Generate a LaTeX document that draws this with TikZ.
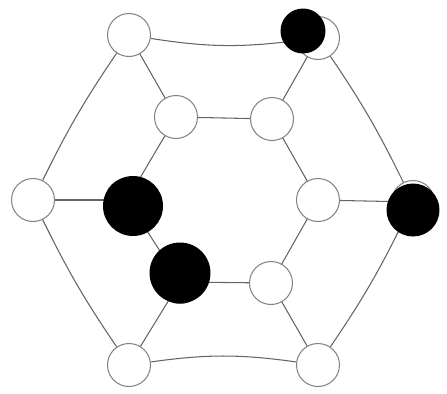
\documentclass[tikz,border=0pt]{standalone}
\usetikzlibrary{positioning}
\definecolor{edgegray}{RGB}{100,100,100}

\begin{document}
\begin{tikzpicture}[x=0.02cm, y=-0.02cm,
    site/.style={draw=edgegray!80,circle,line width=0.6pt,minimum size=0.86cm,inner sep=0pt,fill=white},
    blot/.style={circle,fill=black,inner sep=0pt},
    bond/.style={draw=edgegray,line width=0.6pt}]
        \useasboundingbox (0,0) rectangle (447,393);
        % outer ring
        \node[site] (otl) at (129,35) {};
        \node[site] (otr) at (318,38) {};
        \node[site] (ol)  at (33,200) {};
        \node[site] (or)  at (413,202) {};
        \node[site] (obl) at (129,365) {};
        \node[site] (obr) at (318,365) {};
        % inner ring
        \node[site] (itl) at (176,117) {};
        \node[site] (itr) at (272,119) {};
        \node[site] (il)  at (127,200) {};
        \node[site] (ir)  at (318,200) {};
        \node[site] (ibl) at (180,282) {};
        \node[site] (ibr) at (271,283) {};
        % bonds
        \path[bond] (otl) to[bend right=8] (otr);
        \path[bond] (obl) to[bend left=8] (obr);
        \path[bond] (otl) to[bend right=4] (ol);
        \path[bond] (ol) to[bend right=4] (obl);
        \path[bond] (otr) to[bend left=4] (or);
        \path[bond] (or) to[bend left=4] (obr);
        \path[bond] (otl) -- (itl);
        \path[bond] (otr) -- (itr);
        \path[bond] (ol) -- (il);
        \path[bond] (or) -- (ir);
        \path[bond] (obl) -- (ibl);
        \path[bond] (obr) -- (ibr);
        \path[bond] (itl) -- (itr);
        \path[bond] (itr) -- (ir);
        \path[bond] (ir) -- (ibr);
        \path[bond] (ibr) -- (ibl);
        \path[bond] (ibl) -- (il);
        \path[bond] (il) -- (itl);
        % dark blots over some sites
        \node[blot,minimum size=0.9cm] (b1) at (303,31) {};
        \node[blot,minimum size=1.2cm] (b2) at (133,206) {};
        \node[blot,minimum size=1.22cm] (b3) at (180,273) {};
        \node[blot,minimum size=1.06cm] (b4) at (413,210) {};
\end{tikzpicture}
\end{document}
